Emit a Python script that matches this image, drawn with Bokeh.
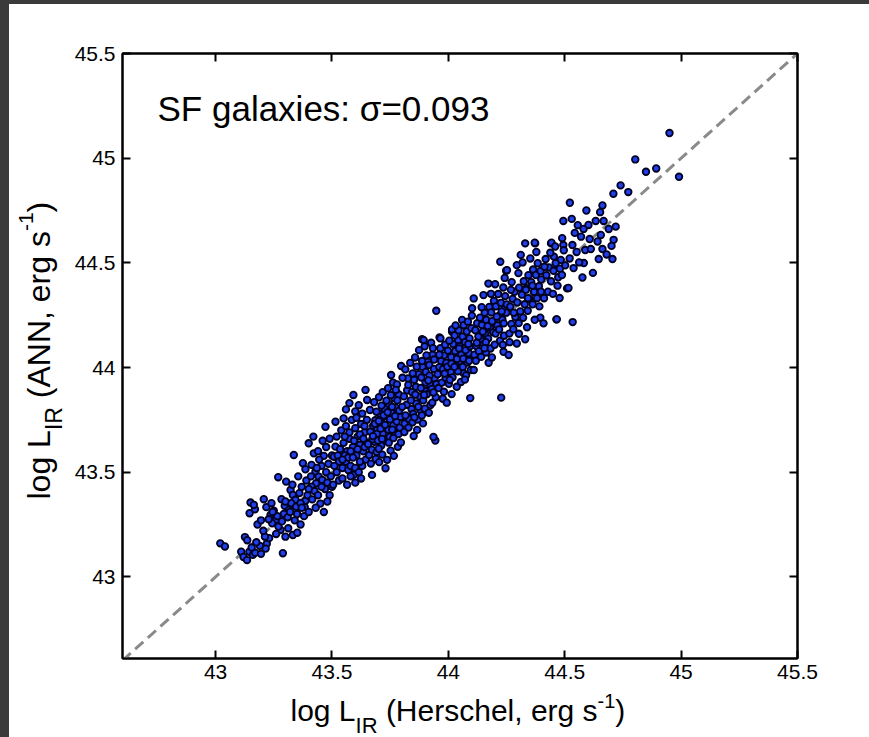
import math

from bokeh.core.properties import value
from bokeh.embed import file_html
from bokeh.layouts import column, row
from bokeh.models import CustomJSTickFormatter, FixedTicker, Label, LinearAxis, Range1d
from bokeh.plotting import figure
from bokeh.resources import INLINE

# log L_IR of star-forming galaxies: Herschel measurement vs. ANN prediction
log_lir_herschel = [
    43.02, 43.04, 43.11, 43.12, 43.135, 43.145, 43.16, 43.17, 43.126, 43.136,
    43.19, 43.22, 43.23, 43.212, 43.289, 43.15, 43.169, 43.146, 43.164, 43.207,
    43.218, 43.24, 43.25, 43.236, 43.258, 43.243, 43.269, 43.303, 43.283, 43.297,
    43.315, 43.293, 43.279, 43.312, 43.332, 43.351, 43.30, 43.322, 43.332, 43.343,
    43.325, 43.346, 43.27, 43.26, 43.205, 43.18, 43.195, 43.228, 43.265, 43.285,
    43.31, 43.30, 43.32, 43.34, 43.195, 43.215, 43.175, 43.155, 43.245, 43.33,
    # 43.35 - 43.5
    43.336, 43.375, 43.386, 43.412, 43.422, 43.40, 43.429, 43.443, 43.458, 43.432,
    43.412, 43.386, 43.383, 43.365, 43.36, 43.37, 43.39, 43.355, 43.365, 43.38,
    43.40, 43.395, 43.415, 43.425, 43.44, 43.45, 43.465, 43.43, 43.47, 43.48,
    43.49, 43.475, 43.455, 43.465, 43.445, 43.475, 43.472, 43.49, 43.50, 43.44,
    43.42, 43.46, 43.485, 43.41, 43.40, 43.435, 43.495, 43.455, 43.35, 43.37,
    43.48, 43.50,
    # 43.5 - 43.65
    43.515, 43.55, 43.592, 43.644, 43.651, 43.508, 43.515, 43.593, 43.52, 43.53,
    43.545, 43.56, 43.57, 43.58, 43.60, 43.615, 43.63, 43.645, 43.525, 43.535,
    43.55, 43.565, 43.575, 43.59, 43.605, 43.62, 43.635, 43.65, 43.52, 43.54,
    43.56, 43.575, 43.585, 43.60, 43.61, 43.625, 43.64, 43.65, 43.53, 43.555,
    43.57, 43.58, 43.595, 43.61, 43.62, 43.635, 43.64, 43.60, 43.615, 43.63,
    43.56, 43.575, 43.545, 43.505, 43.565, 43.60, 43.625, 43.545, 43.59, 43.555,
    43.62, 43.64, 43.51, 43.58, 43.605,
    # 43.65 - 43.8
    43.672, 43.73, 43.754, 43.797, 43.66, 43.671, 43.683, 43.692, 43.70, 43.712,
    43.718, 43.731, 43.742, 43.748, 43.763, 43.772, 43.778, 43.791, 43.795, 43.665,
    43.677, 43.686, 43.694, 43.706, 43.714, 43.727, 43.733, 43.746, 43.756, 43.768,
    43.773, 43.787, 43.663, 43.681, 43.702, 43.718, 43.741, 43.762, 43.779, 43.667,
    43.688, 43.703, 43.716, 43.737, 43.752, 43.766, 43.783, 43.796, 43.674, 43.693,
    43.709, 43.728, 43.749, 43.771, 43.789, 43.684, 43.701, 43.722, 43.739, 43.758,
    43.781, 43.691, 43.713, 43.734, 43.753, 43.774, 43.655, 43.676, 43.697, 43.715,
    43.744, 43.764, 43.786, 43.701, 43.759,
    # 43.8 - 43.95
    43.851, 43.866, 43.88, 43.923, 43.887, 43.894, 43.944, 43.936, 43.812, 43.818,
    43.831, 43.842, 43.849, 43.862, 43.871, 43.878, 43.892, 43.901, 43.908, 43.921,
    43.929, 43.941, 43.809, 43.823, 43.828, 43.844, 43.853, 43.861, 43.873, 43.884,
    43.889, 43.903, 43.912, 43.918, 43.932, 43.939, 43.815, 43.836, 43.857, 43.874,
    43.898, 43.926, 43.811, 43.829, 43.846, 43.868, 43.886, 43.899, 43.916, 43.931,
    43.946, 43.821, 43.839, 43.858, 43.882, 43.902, 43.919, 43.938, 43.826, 43.847,
    43.864, 43.887, 43.906, 43.934, 43.802, 43.816, 43.854, 43.896, 43.914, 43.936,
    43.949, 43.803, 43.891,
    # 43.95 - 44.1
    43.962, 43.966, 44.016, 44.016, 43.948, 44.066, 44.094, 44.059, 43.958, 43.972,
    43.981, 43.988, 44.002, 44.011, 44.018, 44.032, 44.041, 44.049, 44.062, 44.069,
    44.082, 44.088, 44.098, 43.961, 43.969, 43.982, 43.991, 43.998, 44.012, 44.021,
    44.029, 44.042, 44.048, 44.061, 44.072, 44.079, 44.091, 44.099, 43.966, 43.986,
    44.004, 44.027, 44.044, 44.066, 44.084, 43.976, 43.993, 44.014, 44.036, 44.054,
    44.076, 44.096, 43.954, 43.977, 43.996, 44.013, 44.037, 44.056, 44.074, 44.093,
    43.984, 44.026, 44.064, 44.046, 44.086, 44.006, 43.961, 44.101, 44.031, 44.071,
    44.089,
    # 44.1 - 44.25
    44.109, 44.173, 44.151, 44.109, 44.102, 44.223, 44.227, 44.237, 44.112, 44.121,
    44.131, 44.139, 44.152, 44.158, 44.171, 44.179, 44.192, 44.198, 44.211, 44.219,
    44.232, 44.241, 44.249, 44.116, 44.124, 44.136, 44.144, 44.156, 44.163, 44.176,
    44.184, 44.196, 44.204, 44.214, 44.226, 44.236, 44.244, 44.118, 44.141, 44.162,
    44.181, 44.199, 44.222, 44.239, 44.129, 44.148, 44.169, 44.188, 44.208, 44.229,
    44.251, 44.143, 44.183, 44.201, 44.242, 44.122, 44.161, 44.203, 44.238, 44.187,
    44.218, 44.172, 44.248, 44.155, 44.234,
    # 44.25 - 44.4
    44.252, 44.294, 44.33, 44.373, 44.259, 44.294, 44.33, 44.395, 44.262, 44.271,
    44.279, 44.288, 44.302, 44.309, 44.321, 44.328, 44.341, 44.349, 44.362, 44.368,
    44.381, 44.389, 44.398, 44.266, 44.276, 44.284, 44.296, 44.304, 44.316, 44.324,
    44.336, 44.344, 44.356, 44.364, 44.376, 44.384, 44.396, 44.272, 44.301, 44.319,
    44.352, 44.378, 44.263, 44.303, 44.338, 44.371, 44.311, 44.281, 44.361, 44.399,
    44.342, 44.269, 44.391, 44.333, 44.371,
    # 44.4 - 44.6
    44.441, 44.443, 44.464, 44.466, 44.51, 44.534, 44.409, 44.494, 44.522, 44.53,
    44.543, 44.57, 44.556, 44.593, 44.494, 44.533, 44.483, 44.453, 44.496, 44.582,
    44.538, 44.576, 44.516, 44.421, 44.432, 44.441, 44.452, 44.461, 44.472, 44.479,
    44.418, 44.438, 44.459, 44.411, 44.428, 44.449, 44.469, 44.488, 44.502, 44.521,
    44.551, 44.489, 44.562, 44.588, 44.581, 44.413, 44.478,
    # 44.6 - 45.0
    44.607, 44.612, 44.633, 44.646, 44.655, 44.662, 44.662, 44.667, 44.68, 44.689,
    44.705, 44.709, 44.71, 44.719, 44.74, 44.773, 44.803, 44.849, 44.893, 44.991,
    44.95, 44.621, 44.602, 44.641, 44.701, 44.652,
]

log_lir_ann = [
    43.16, 43.145, 43.12, 43.095, 43.08, 43.12, 43.105, 43.115, 43.19, 43.175,
    43.148, 43.158, 43.185, 43.192, 43.113, 43.355, 43.323, 43.304, 43.344, 43.371,
    43.333, 43.352, 43.316, 43.296, 43.272, 43.256, 43.476, 43.455, 43.371, 43.339,
    43.32, 43.301, 43.224, 43.232, 43.20, 43.211, 43.192, 43.415, 43.391, 43.368,
    43.352, 43.335, 43.24, 43.205, 43.22, 43.25, 43.27, 43.275, 43.29, 43.265,
    43.285, 43.36, 43.31, 43.27, 43.11, 43.135, 43.165, 43.14, 43.31, 43.44,
    # 43.35 - 43.5
    43.582, 43.543, 43.514, 43.535, 43.59, 43.638, 43.503, 43.479, 43.463, 43.447,
    43.431, 43.364, 43.333, 43.352, 43.40, 43.43, 43.46, 43.48, 43.25, 43.29,
    43.31, 43.39, 43.37, 43.41, 43.39, 43.35, 43.31, 43.33, 43.42, 43.45,
    43.39, 43.50, 43.53, 43.578, 43.56, 43.62, 43.717, 43.66, 43.58, 43.60,
    43.67, 43.65, 43.54, 43.48, 43.42, 43.52, 43.48, 43.43, 43.30, 43.33,
    43.36, 43.43,
    # 43.5 - 43.65
    43.741, 43.757, 43.869, 43.893, 43.845, 43.574, 43.622, 43.487, 43.50, 43.46,
    43.52, 43.55, 43.51, 43.53, 43.52, 43.50, 43.53, 43.56, 43.58, 43.61,
    43.64, 43.60, 43.66, 43.62, 43.58, 43.63, 43.60, 43.64, 43.67, 43.70,
    43.72, 43.69, 43.75, 43.71, 43.67, 43.73, 43.69, 43.75, 43.55, 43.58,
    43.57, 43.60, 43.65, 43.61, 43.68, 43.66, 43.72, 43.79, 43.82, 43.78,
    43.80, 43.83, 43.47, 43.44, 43.44, 43.45, 43.47, 43.56, 43.57, 43.67,
    43.55, 43.62, 43.53, 43.48, 43.76,
    # 43.65 - 43.8
    43.487, 43.519, 43.964, 44.007, 43.582, 43.608, 43.645, 43.597, 43.663, 43.627,
    43.684, 43.652, 43.703, 43.668, 43.724, 43.686, 43.742, 43.713, 43.764, 43.694,
    43.722, 43.748, 43.703, 43.779, 43.736, 43.802, 43.768, 43.824, 43.787, 43.853,
    43.809, 43.871, 43.797, 43.834, 43.858, 43.882, 43.901, 43.928, 43.919, 43.541,
    43.563, 43.548, 43.584, 43.559, 43.603, 43.578, 43.621, 43.642, 43.657, 43.683,
    43.708, 43.726, 43.752, 43.768, 43.794, 43.731, 43.744, 43.772, 43.786, 43.812,
    43.843, 43.789, 43.818, 43.842, 43.868, 43.893, 43.634, 43.672, 43.651, 43.659,
    43.641, 43.663, 43.682, 43.612, 43.703,
    # 43.8 - 43.95
    43.673, 43.702, 43.797, 43.821, 44.135, 44.131, 43.651, 43.668, 43.732, 43.768,
    43.754, 43.801, 43.779, 43.828, 43.812, 43.861, 43.843, 43.887, 43.872, 43.918,
    43.898, 43.948, 43.862, 43.891, 43.917, 43.882, 43.941, 43.908, 43.968, 43.952,
    44.003, 43.979, 44.027, 44.012, 44.061, 44.038, 43.991, 44.022, 44.048, 44.083,
    44.101, 44.118, 43.692, 43.713, 43.738, 43.752, 43.771, 43.803, 43.784, 43.832,
    43.858, 43.822, 43.843, 43.871, 43.902, 43.928, 43.961, 43.993, 43.948, 43.972,
    44.004, 44.031, 44.058, 44.092, 43.812, 43.771, 43.762, 43.869, 43.938, 43.881,
    43.921, 43.951, 43.733,
    # 43.95 - 44.1
    44.144, 44.139, 44.171, 44.182, 44.271, 43.972, 43.854, 44.227, 43.902, 43.928,
    43.884, 43.951, 43.922, 43.978, 43.953, 44.011, 43.982, 44.031, 44.003, 44.052,
    44.024, 44.068, 44.041, 44.002, 44.031, 44.058, 44.022, 44.081, 44.049, 44.112,
    44.078, 44.131, 44.102, 44.148, 44.121, 44.172, 44.139, 44.188, 44.092, 44.109,
    44.128, 44.153, 44.178, 44.202, 44.219, 43.851, 43.832, 43.873, 43.908, 43.931,
    43.962, 43.988, 43.968, 43.992, 44.004, 44.018, 44.041, 44.062, 44.083, 44.101,
    43.971, 44.003, 44.042, 44.091, 44.112, 43.941, 44.061, 44.248, 44.201, 43.942,
    44.032,
    # 44.1 - 44.25
    43.988, 44.023, 44.346, 44.33, 44.283, 44.505, 43.856, 44.075, 44.061, 44.102,
    44.078, 44.131, 44.112, 44.162, 44.138, 44.191, 44.168, 44.222, 44.201, 44.248,
    44.229, 44.281, 44.262, 44.178, 44.212, 44.238, 44.203, 44.262, 44.228, 44.289,
    44.263, 44.318, 44.292, 44.351, 44.309, 44.382, 44.341, 44.032, 44.051, 44.072,
    44.091, 44.109, 44.128, 44.152, 44.148, 44.171, 44.198, 44.221, 44.243, 44.268,
    44.301, 44.288, 44.352, 44.398, 44.428, 44.118, 44.121, 44.162, 44.211, 44.048,
    44.182, 44.401, 44.462, 44.092, 44.108,
    # 44.25 - 44.4
    44.465, 44.489, 44.593, 44.593, 44.06, 44.115, 44.135, 44.238, 44.162, 44.208,
    44.183, 44.241, 44.212, 44.268, 44.238, 44.302, 44.271, 44.328, 44.302, 44.361,
    44.331, 44.388, 44.362, 44.291, 44.328, 44.362, 44.311, 44.381, 44.348, 44.412,
    44.379, 44.441, 44.408, 44.468, 44.442, 44.498, 44.461, 44.408, 44.451, 44.502,
    44.521, 44.552, 44.121, 44.161, 44.192, 44.228, 44.538, 44.262, 44.391, 44.421,
    44.331, 44.371, 44.292, 44.371, 44.596,
    # 44.4 - 44.6
    44.593, 44.596, 44.23, 44.23, 44.378, 44.217, 44.211, 44.70, 44.787, 44.71,
    44.643, 44.625, 44.68, 44.75, 44.585, 44.585, 44.514, 44.53, 44.56, 44.499,
    44.475, 44.43, 44.38, 44.441, 44.478, 44.412, 44.462, 44.498, 44.431, 44.472,
    44.518, 44.548, 44.578, 44.331, 44.362, 44.352, 44.391, 44.442, 44.488, 44.521,
    44.552, 44.618, 44.502, 44.561, 44.662, 44.481, 44.332,
    # 44.6 - 45.0
    44.614, 44.566, 44.70, 44.518, 44.633, 44.566, 44.774, 44.70, 44.54, 44.662,
    44.518, 44.83, 44.61, 44.673, 44.87, 44.838, 44.994, 44.935, 44.951, 44.911,
    45.12, 44.452, 44.681, 44.602, 44.581, 44.742,
]

x_ticks = [43, 43.5, 44, 44.5, 45, 45.5]
y_ticks = [43, 43.5, 44, 44.5, 45, 45.5]
x_limits = (42.6, 45.5)
y_limits = (42.61, 45.5)
one_to_one = [42.6, 45.5]
sigma = 0.093

FONT = "Liberation Sans"
PAGE_W, PAGE_H = 869, 737

# page geometry (pixels from the page's top-left corner)
PAD_L, PAD_T = 9, 4             # dark strips round the white sheet
YLAB_W = 61                     # strip holding the vertical axis title
FRAME_L, FRAME_T = 122, 53
FRAME_W, FRAME_H = 675, 605
FRAME_R = FRAME_L + FRAME_W
FRAME_B = FRAME_T + FRAME_H
MAIN_BOTTOM = 30                # room for the x tick labels
BASELINE_DROP = 0.4             # where the renderer puts an "alphabetic" anchor, in em

main_left = PAD_L + YLAB_W
border_l = FRAME_L - main_left
border_r = PAGE_W - FRAME_R
border_t = FRAME_T - PAD_T

p = figure(
    frame_width=FRAME_W, frame_height=FRAME_H,
    x_range=Range1d(*x_limits), y_range=Range1d(*y_limits),
    min_border_left=border_l, min_border_right=border_r,
    min_border_top=border_t, min_border_bottom=MAIN_BOTTOM,
    output_backend="svg", toolbar_location=None,
    background_fill_color="white", border_fill_color="white",
)
p.grid.visible = False
p.outline_line_color = "black"
p.outline_line_width = 2


def style_axis(ax, ticks, show_labels=True):
    ax.ticker = FixedTicker(ticks=ticks)
    ax.major_tick_in = 8
    ax.major_tick_out = 0
    ax.minor_tick_line_color = None
    ax.major_tick_line_width = 2
    ax.major_tick_line_color = "black"
    ax.axis_line_width = 2
    ax.axis_line_color = "black"
    ax.major_label_text_font = FONT
    ax.major_label_text_font_size = "21px"
    ax.major_label_text_color = "black"
    ax.major_label_standoff = 6
    if not show_labels:
        ax.formatter = CustomJSTickFormatter(code="return ''")


style_axis(p.xaxis[0], x_ticks)
style_axis(p.yaxis[0], y_ticks)
p.yaxis[0].major_label_standoff = 7
top_axis = LinearAxis()
right_axis = LinearAxis()
style_axis(top_axis, x_ticks, show_labels=False)
style_axis(right_axis, y_ticks, show_labels=False)
p.add_layout(top_axis, "above")
p.add_layout(right_axis, "right")

# 1:1 reference line
p.line(one_to_one, one_to_one, line_color="#8a8a8a", line_width=3, line_dash="11 6")

p.scatter(log_lir_herschel, log_lir_ann, size=6.6, marker="circle",
          fill_color="#1f40ec", line_color="#000022", line_width=1.8)

px_per_x = FRAME_W / (x_limits[1] - x_limits[0])
px_per_y = FRAME_H / (y_limits[1] - y_limits[0])
TITLE_SIZE = 35
p.add_layout(Label(x=x_limits[0] + (157 - FRAME_L) / px_per_x,
                   y=y_limits[0] + (FRAME_B - (122 - BASELINE_DROP * TITLE_SIZE)) / px_per_y,
                   text=f"SF galaxies: σ={sigma:.3f}",
                   text_font=FONT, text_font_size=f"{TITLE_SIZE}px", text_color="black",
                   text_baseline="alphabetic", text_align="left"))

# Axis titles with sub/superscripts are set in two small text-only panels
# whose frames line up with the main plot's frame.
ADV = {" ": 278, "(": 333, ")": 333, ",": 278, "-": 333, ".": 278, ":": 278,
       "=": 584, "A": 667, "H": 722, "I": 278, "L": 556, "N": 722, "R": 722,
       "a": 556, "c": 500, "e": 556, "g": 556, "h": 556, "l": 222, "o": 556,
       "r": 333, "s": 500, "1": 556}


def width(s, size):
    return sum(ADV.get(c, 556) for c in s) / 1000 * size


def text_panel(fw, fh, left, right, top, bottom):
    f = figure(frame_width=fw, frame_height=fh,
               x_range=Range1d(0, fw), y_range=Range1d(0, fh),
               min_border_left=left, min_border_right=right,
               min_border_top=top, min_border_bottom=bottom,
               x_axis_location=None, y_axis_location=None,
               output_backend="svg", toolbar_location=None,
               background_fill_color=None, border_fill_color=None)
    f.outline_line_color = None
    f.grid.visible = False
    return f


# (text, font size, baseline shift in px, space before)
x_title = [("log L", 30, 0, 0), ("IR", 22, 12, 0), ("(Herschel, erg s", 30, 0, 1),
           ("-1", 20, -14, 0), (")", 30, 0, 0)]
y_title = [("log L", 32, 0, 0), ("IR", 23, 12, 0), ("(ANN, erg s", 32, 0, 1),
           ("-1", 21, -17, 0), (")", 32, 0, 0)]

# horizontal title under the main plot: frame spans page x FRAME_L..FRAME_R
xlab_top = PAD_T + border_t + FRAME_H + MAIN_BOTTOM
xlab_h = PAGE_H - xlab_top
xlab = text_panel(FRAME_W, xlab_h, border_l, border_r, 0, 0)
pos, base = 290, 722
for txt, size, shift, gap in x_title:
    pos += gap * width(" ", 30)
    anchor = base + shift - BASELINE_DROP * size
    xlab.text(x=[pos - FRAME_L], y=[PAGE_H - anchor], text=[txt],
              text_font=value(FONT), text_font_size=value(f"{size}px"),
              text_color="black", text_baseline="alphabetic", text_align="left")
    pos += width(txt, size)

# vertical title left of the main plot: frame spans page y FRAME_T..FRAME_B
ylab = text_panel(YLAB_W, FRAME_H, 0, 0, border_t, PAGE_H - FRAME_B)
pos, base = 499, 51
for txt, size, shift, gap in y_title:
    pos -= gap * width(" ", 32)
    anchor = base + shift - BASELINE_DROP * size
    ylab.text(x=[anchor - PAD_L], y=[FRAME_B - pos], text=[txt], angle=math.pi / 2,
              text_font=value(FONT), text_font_size=value(f"{size}px"),
              text_color="black", text_baseline="alphabetic", text_align="left")
    pos -= width(txt, size)

sheet = row(ylab, column(p, xlab), styles={"background-color": "white"})
sheet.margin = (PAD_T, 0, 0, PAD_L)
page = column(sheet, styles={"background-color": "#3a3a3a"})
open("out.html", "w").write(file_html(page, INLINE))
